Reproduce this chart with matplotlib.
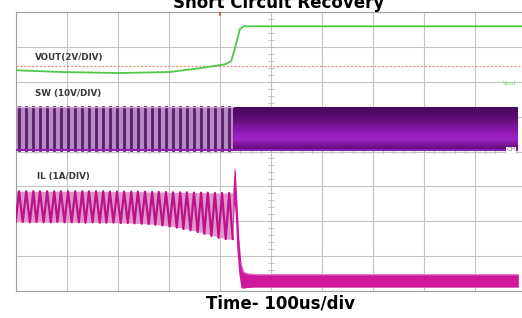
import numpy as np
import matplotlib.pyplot as plt
from matplotlib.colors import LinearSegmentedColormap

# time in us (100 us/div), vertical in scope divisions (0 = bottom, 8 = top)
vout_t = [0, 86, 204, 302, 361, 410, 422, 431, 439, 447, 992]
vout_v = [6.33, 6.28, 6.25, 6.28, 6.39, 6.50, 6.59, 7.05, 7.51, 7.59, 7.59]
vout_ref = 6.45

sw_edges = [6, 20, 34, 47, 61, 75, 88, 102, 116, 130, 143, 157, 171, 184, 198,
            212, 226, 239, 253, 267, 280, 294, 308, 322, 335, 349, 363, 376,
            390, 404, 418]
sw_high = 5.27
sw_low = 4.04
sw_recover_t = 425
sw_end_t = 982

il_peak = [2.86, 2.86, 2.86, 2.86, 2.86, 2.86, 2.86, 2.86, 2.86, 2.86, 2.86,
           2.86, 2.86, 2.85, 2.85, 2.85, 2.85, 2.85, 2.85, 2.84, 2.84, 2.84,
           2.83, 2.83, 2.83, 2.82, 2.82, 2.82, 2.81, 2.81, 2.81]
il_valley = [1.98, 1.98, 1.97, 1.98, 1.97, 1.97, 1.98, 1.97, 1.97, 1.97, 1.96,
             1.97, 1.96, 1.96, 1.96, 1.95, 1.95, 1.94, 1.93, 1.92, 1.90, 1.88,
             1.85, 1.82, 1.78, 1.74, 1.69, 1.64, 1.58, 1.53, 1.49]
il_post_t = [425, 428, 430, 433, 437, 441, 446, 452, 470, 985]
il_post_hi = [2.80, 3.55, 3.45, 2.60, 1.50, 0.80, 0.55, 0.50, 0.47, 0.47]
il_post_lo = [1.50, 2.50, 2.20, 1.20, 0.50, 0.10, 0.08, 0.10, 0.11, 0.11]

fig = plt.figure(figsize=(5.22, 3.18), dpi=100)
ax = fig.add_axes([16 / 522, 27 / 318, 510 / 522, 279 / 318])
ax.set_xlim(0, 1000)
ax.set_ylim(0, 8)

# scope graticule
for gx in range(0, 1001, 100):
    ax.axvline(gx, color='#c4c4c4', lw=0.8, zorder=0)
for gy in range(0, 9):
    ax.axhline(gy, color='#c4c4c4', lw=0.8, zorder=0)
for mx in np.arange(0, 1000, 20):
    ax.plot([mx, mx], [3.95, 4.05], color='#b0b0b0', lw=0.5, zorder=0)
for my in np.arange(0, 8, 0.2):
    ax.plot([495, 505], [my, my], color='#b0b0b0', lw=0.5, zorder=0)
for s in ax.spines.values():
    s.set_color('#a0a0a0')
    s.set_linewidth(0.8)
ax.set_xticks([])
ax.set_yticks([])

# VOUT
ax.axhline(vout_ref, color='#e0907a', lw=0.8, ls=(0, (2, 1.5)), zorder=1)
ax.plot(vout_t, vout_v, color='#4ec84a', lw=1.3, zorder=3)
ax.plot([400, 400], [7.9, 8.0], color='#e04040', lw=1.2, zorder=3)

# SW before recovery: pulses
ax.fill_between([0, sw_recover_t], sw_low, sw_high, color='#b68ac2', lw=0, zorder=2)
for e in sw_edges:
    ax.plot([e, e], [sw_low, sw_high], color='#5c1a6c', lw=2.0, zorder=3)
ax.plot([0, sw_recover_t], [sw_high, sw_high], color='#c9a2d2', lw=1.0, zorder=3)

# SW after recovery: dense switching block
cmap = LinearSegmentedColormap.from_list(
    'sw', ['#4a0a5e', '#5c0c74', '#8416a6', '#a224c8', '#5a0a70'])
grad = np.linspace(0, 1, 64).reshape(-1, 1)
ax.imshow(grad, cmap=cmap, aspect='auto',
          extent=[sw_recover_t, sw_end_t, sw_low, sw_high],
          origin='upper', zorder=2, interpolation='bilinear')
ax.plot([0, sw_end_t], [sw_low, sw_low], color='#8a20b0', lw=1.5, zorder=4)

# IL ripple
il_x, il_y, il_lo, il_hi = [], [], [], []
for e, pk, vl in zip(sw_edges, il_peak, il_valley):
    il_x += [e - 6.8, e]
    il_y += [vl, pk]
    il_lo += [vl, vl]
    il_hi += [pk, pk]
il_x.append(sw_recover_t)
il_y.append(il_valley[-1])
il_lo.append(il_valley[-1])
il_hi.append(il_peak[-1])
ax.fill_between(il_x, il_lo, il_hi, color='#e694cc', lw=0, zorder=2)
ax.plot(il_x, il_y, color='#b8148a', lw=1.6, zorder=3)

# IL short circuit release
ax.fill_between(il_post_t, il_post_lo, il_post_hi, color='#d0169c', lw=0, zorder=3)
ax.plot(il_post_t[5:], il_post_hi[5:], color='#e86cc4', lw=0.8, zorder=4)

# channel labels
lab = dict(fontsize=6.3, fontweight='bold', color='#3a3a3a', zorder=5)
ax.text(37, 6.7, 'VOUT(2V/DIV)', va='center', **lab)
ax.text(37, 5.65, 'SW (10V/DIV)', va='center', **lab)
ax.text(41, 3.27, 'IL (1A/DIV)', va='center', **lab)
ax.text(955, 5.95, 'Vout', fontsize=4.5, color='#7ad870', va='center', zorder=5)
ax.text(962, 4.05, 'CH', fontsize=4.5, color='#888888', va='center', zorder=5,
        bbox=dict(facecolor='white', edgecolor='none', pad=0.5))

fig.text(279 / 522, 1 - 8 / 318, 'Short Circuit Recovery', ha='center', va='baseline',
         fontsize=12, fontweight='bold')
fig.text(280 / 522, 1 - 309 / 318, 'Time- 100us/div', ha='center', va='baseline',
         fontsize=12, fontweight='bold')

fig.savefig('out.png', dpi=100)
